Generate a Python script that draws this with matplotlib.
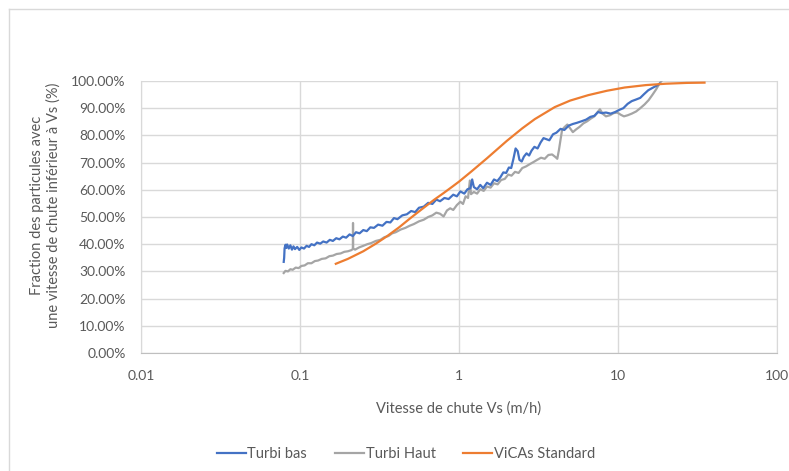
import matplotlib
matplotlib.use('Agg')
import matplotlib.pyplot as plt
from matplotlib.ticker import FixedLocator, FuncFormatter, NullLocator
from matplotlib.lines import Line2D

plt.rcParams['font.family'] = ['Lato', 'DejaVu Sans']

# Turbi bas (x = vitesse m/h, y = %)
bas_x = [0.079, 0.0795, 0.080, 0.081, 0.082, 0.083, 0.085, 0.087, 0.089, 0.091, 0.093, 0.096,
         0.099, 0.102, 0.106, 0.110, 0.114, 0.118, 0.123, 0.128, 0.134, 0.140, 0.147, 0.154,
         0.161, 0.169, 0.177, 0.186, 0.195, 0.205, 0.215, 0.225, 0.237, 0.25, 0.263, 0.277,
         0.292, 0.31, 0.33, 0.35, 0.37, 0.39, 0.41, 0.44, 0.47, 0.50, 0.53, 0.56, 0.60, 0.64,
         0.68, 0.72, 0.76, 0.81, 0.86, 0.92, 0.97, 1.02, 1.08, 1.13, 1.18, 1.21, 1.24, 1.30,
         1.36, 1.42, 1.50, 1.58, 1.66, 1.74, 1.82, 1.90, 1.98, 2.06, 2.13, 2.20, 2.27, 2.34,
         2.40, 2.48, 2.56, 2.66, 2.76, 2.86, 2.98, 3.12, 3.26, 3.40, 3.55, 3.70, 3.90, 4.10,
         4.35, 4.60, 4.90, 5.2, 5.5, 5.9, 6.3, 6.7, 7.1, 7.5, 7.9, 8.4, 9.0, 9.6, 10.2, 10.8,
         11.5, 12.2, 13.0, 13.8, 14.6, 15.5, 16.4, 17.4, 18.3]
bas_y = [33.5, 35.0, 38.5, 39.8, 38.6, 39.9, 38.4, 39.6, 38.0, 39.2, 38.2, 39.0,
         37.9, 38.8, 38.4, 39.4, 39.0, 40.0, 39.6, 40.6, 40.2, 41.0, 40.6, 41.6,
         41.2, 42.2, 41.8, 42.8, 42.4, 43.6, 43.0, 44.4, 44.0, 45.2, 44.8, 46.2,
         46.0, 47.2, 46.8, 48.2, 48.0, 49.6, 49.2, 50.6, 51.0, 52.2, 51.8, 53.4, 53.8, 55.2,
         54.8, 56.4, 55.8, 57.0, 56.6, 58.2, 57.6, 59.4, 58.6, 60.2, 60.6, 63.8, 61.0, 60.2,
         61.8, 60.6, 62.6, 61.8, 63.8, 63.2, 64.6, 66.4, 66.2, 68.2, 68.0, 71.4, 75.2, 74.2,
         71.0, 70.4, 72.2, 73.4, 72.6, 74.4, 75.8, 75.2, 77.4, 79.0, 78.6, 78.2, 80.4, 81.0,
         82.4, 82.0, 83.6, 84.2, 84.6, 85.2, 85.8, 86.8, 87.2, 88.6, 88.2, 88.4, 88.0, 88.6,
         89.4, 90.0, 91.6, 92.6, 93.2, 93.8, 95.2, 96.6, 97.4, 98.2, 99.0]

# Turbi Haut
haut_x = [0.079, 0.081, 0.084, 0.087, 0.090, 0.094, 0.098, 0.102, 0.107, 0.112, 0.118, 0.124,
          0.130, 0.137, 0.145, 0.153, 0.161, 0.170, 0.180, 0.190, 0.200, 0.210, 0.2150, 0.2155,
          0.2160, 0.222, 0.235, 0.25, 0.265, 0.28, 0.30, 0.32, 0.34, 0.36, 0.38, 0.40, 0.43,
          0.46, 0.49, 0.52, 0.56, 0.60, 0.64, 0.68, 0.72, 0.76, 0.80, 0.84, 0.88, 0.92, 0.97,
          1.02, 1.06, 1.10, 1.14, 1.17, 1.19, 1.24, 1.30, 1.36, 1.43, 1.50, 1.58, 1.66, 1.75,
          1.84, 1.94, 2.04, 2.14, 2.25, 2.37, 2.50, 2.64, 2.78, 2.94, 3.10, 3.28, 3.46, 3.65,
          3.85, 4.05, 4.15, 4.25, 4.35, 4.45, 4.60, 4.80, 5.00, 5.20, 5.45, 5.75, 6.05, 6.40,
          6.75, 7.10, 7.40, 7.70, 8.00, 8.40, 8.90, 9.40, 9.90, 10.4, 10.9, 11.5, 12.2, 13.0,
          13.8, 14.7, 15.6, 16.5, 17.4, 18.2, 19.0]
haut_y = [29.4, 30.2, 30.0, 30.8, 30.6, 31.4, 31.2, 32.0, 32.2, 33.0, 33.0, 33.8,
          34.0, 34.6, 34.8, 35.6, 35.8, 36.4, 36.6, 37.2, 37.4, 37.8, 38.2, 47.8,
          38.4, 38.0, 38.8, 39.4, 40.0, 40.4, 41.2, 41.6, 42.6, 43.0, 44.0, 44.4, 45.4,
          46.0, 46.8, 47.4, 48.4, 49.0, 50.0, 50.6, 51.6, 51.2, 50.2, 52.4, 53.2, 52.6, 54.4,
          55.6, 54.8, 57.6, 57.0, 63.4, 58.4, 59.2, 58.6, 60.2, 59.6, 61.2, 60.8, 62.4, 62.0,
          63.6, 64.0, 65.6, 65.2, 66.6, 66.2, 68.0, 68.6, 69.4, 70.2, 71.0, 71.8, 71.4, 72.8,
          73.0, 72.0, 71.4, 74.6, 78.4, 82.0, 83.0, 84.0, 82.6, 81.2, 82.2, 83.2, 84.4, 85.2,
          86.2, 87.0, 88.4, 89.6, 88.0, 87.0, 87.4, 88.2, 88.4, 87.6, 87.0, 87.4, 88.0, 88.8,
          90.0, 91.4, 93.0, 95.0, 97.0, 99.0, 100.4]

# ViCAs Standard
vicas_x = [0.168, 0.20, 0.25, 0.30, 0.35, 0.42, 0.50, 0.60, 0.70, 0.80, 0.90, 1.00, 1.20,
           1.50, 2.00, 2.50, 3.00, 4.00, 5.00, 6.50, 8.50, 11.0, 15.0, 20.0, 27.0, 35.0]
vicas_y = [32.8, 34.6, 37.4, 40.2, 42.8, 46.2, 49.8, 53.4, 56.4, 58.8, 61.0, 63.0, 66.8,
           71.6, 78.0, 82.6, 86.0, 90.4, 92.8, 94.8, 96.4, 97.6, 98.5, 99.0, 99.3, 99.4]

x_ticks = [0.01, 0.1, 1, 10, 100]
x_labels = ['0.01', '0.1', '1', '10', '100']
y_ticks = [0, 10, 20, 30, 40, 50, 60, 70, 80, 90, 100]

c_bas = '#4472C4'
c_haut = '#A5A5A5'
c_vicas = '#ED7D31'
txt = '#595959'
grid = '#D9D9D9'

fig = plt.figure(figsize=(7.89, 4.71), dpi=100)
ax = fig.add_axes([141/789, 1 - 353/471, (777 - 141)/789, (353 - 81)/471])

ax.plot(haut_x, haut_y, color=c_haut, lw=1.6, zorder=3)
ax.plot(bas_x, bas_y, color=c_bas, lw=1.6, zorder=4)
ax.plot(vicas_x, vicas_y, color=c_vicas, lw=1.6, zorder=5)

ax.set_xscale('log')
ax.set_xlim(0.01, 100)
ax.set_ylim(0, 100)
ax.xaxis.set_major_locator(FixedLocator(x_ticks))
ax.xaxis.set_minor_locator(NullLocator())
ax.set_xticklabels(x_labels)
ax.set_yticks(y_ticks)
ax.yaxis.set_major_formatter(FuncFormatter(lambda v, p: f'{v:.2f}%'))
ax.tick_params(length=0, colors=txt, labelsize=10)
ax.tick_params(axis='x', pad=12)
ax.tick_params(axis='y', pad=11)
ax.grid(True, color=grid, lw=1)
ax.set_axisbelow(True)
ax.spines['top'].set_visible(False)
ax.spines['left'].set_color(grid)
ax.spines['right'].set_color(grid)
ax.spines['bottom'].set_color('#BFBFBF')

fig.text(459/789, 1 - 409/471, 'Vitesse de chute Vs (m/h)', ha='center', va='center',
         color=txt, fontsize=10.5)
fig.text(45/789, 1 - 205/471,
         'Fraction des particules avec\nune vitesse de chute inférieur à Vs (%)',
         ha='center', va='center', rotation=90, color=txt, fontsize=10.5, linespacing=1.2)

handles = [Line2D([], [], color=c_bas, lw=1.6),
           Line2D([], [], color=c_haut, lw=1.6),
           Line2D([], [], color=c_vicas, lw=1.6)]
leg = fig.legend(handles, ['Turbi bas', 'Turbi Haut', 'ViCAs Standard'],
                 loc='center', bbox_to_anchor=(406/789, 1 - 454/471), ncol=3,
                 frameon=False, fontsize=10.5, handlelength=2.0, handletextpad=0.1,
                 columnspacing=1.9)
for t in leg.get_texts():
    t.set_color(txt)

# contour de la zone graphique
fig.add_artist(Line2D([9/789, 1.0], [1 - 9/471, 1 - 9/471], color='#D9D9D9', lw=1))
fig.add_artist(Line2D([9/789, 9/789], [0.0, 1 - 9/471], color='#D9D9D9', lw=1))

fig.savefig('out.png', dpi=100, facecolor='white')
